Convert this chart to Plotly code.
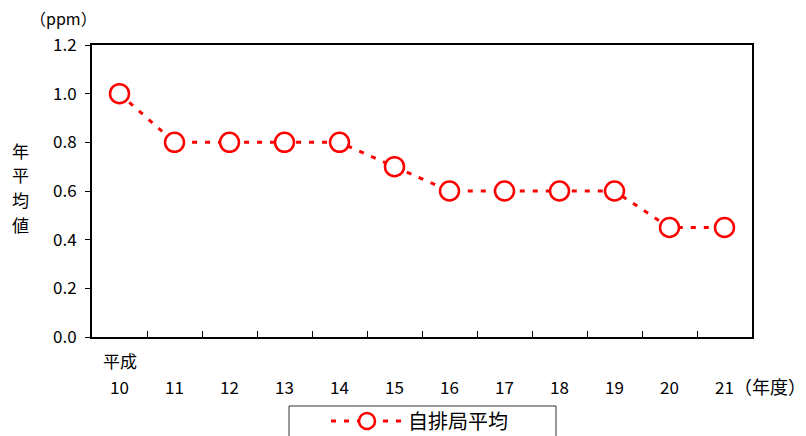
import plotly.graph_objects as go

# 年度（平成）
years = ["10", "11", "12", "13", "14", "15", "16", "17", "18", "19", "20", "21"]
# 自排局平均 年平均値 (ppm)
values = [1.0, 0.8, 0.8, 0.8, 0.8, 0.7, 0.6, 0.6, 0.6, 0.6, 0.45, 0.45]
series_name = "自排局平均"
y_ticks = [0.0, 0.2, 0.4, 0.6, 0.8, 1.0, 1.2]
y_title_chars = ["年", "平", "均", "値"]

FONT = "Noto Sans CJK JP"
RED = "#ff0000"

# plot area in pixels
L, R, T, B = 92, 752, 45, 337
W, H = R - L, B - T


def px_x(p):
    return (p - L) / W


def px_y(p):
    return (B - p) / H


fig = go.Figure()
fig.add_trace(go.Scatter(
    x=years, y=values, name=series_name, mode="lines+markers",
    line=dict(color=RED, width=3, dash="5px,8px"),
    marker=dict(symbol="circle", size=19, color="white",
                line=dict(color=RED, width=2.5)),
    showlegend=True,
))

fig.update_layout(
    width=806, height=436,
    margin=dict(l=L, r=806 - R, t=T, b=436 - B, autoexpand=False),
    paper_bgcolor="white", plot_bgcolor="white",
    font=dict(family=FONT, color="black", size=17),
    showlegend=True,
    legend=dict(orientation="h", x=px_x(326), y=px_y(421), xanchor="left", yanchor="middle",
                font=dict(size=20, family=FONT), itemwidth=72,
                bgcolor="rgba(0,0,0,0)", borderwidth=0),
    xaxis=dict(type="category", categoryorder="array", categoryarray=years,
               range=[-0.5, len(years) - 0.5],
               showline=True, linecolor="black", linewidth=2, mirror=True,
               ticks="inside", tickson="boundaries", ticklen=6, tickcolor="black",
               tickwidth=1, showgrid=False, zeroline=False,
               tickfont=dict(size=17, family=FONT), ticklabelstandoff=35),
    yaxis=dict(range=[0, 1.2], tickvals=y_ticks,
               ticktext=[f"{v:.1f}" for v in y_ticks],
               showline=True, linecolor="black", linewidth=2, mirror=True,
               ticks="outside", ticklen=5, tickcolor="black", tickwidth=1,
               showgrid=False, zeroline=False,
               tickfont=dict(size=17, family=FONT), ticklabelstandoff=5),
)

# 凡例の枠
fig.add_shape(type="rect", xref="paper", yref="paper",
              x0=px_x(289), x1=px_x(556), y0=px_y(460), y1=px_y(406),
              line=dict(color="#333333", width=1), fillcolor="rgba(0,0,0,0)")

# 単位
fig.add_annotation(text="（ppm）", xref="paper", yref="paper",
                   x=px_x(63), y=px_y(18), xanchor="center", yanchor="middle",
                   showarrow=False, font=dict(size=16, family=FONT))

# 縦書きの軸見出し
for i, ch in enumerate(y_title_chars):
    fig.add_annotation(text=ch, xref="paper", yref="paper",
                       x=px_x(20), y=px_y(150 + 24.7 * i),
                       xanchor="center", yanchor="middle",
                       showarrow=False, font=dict(size=17, family=FONT))

fig.add_annotation(text="平成", xref="x", yref="paper", x=0,
                   y=px_y(361), xanchor="center", yanchor="middle",
                   showarrow=False, font=dict(size=17, family=FONT))
fig.add_annotation(text="（年度）", xref="paper", yref="paper",
                   x=px_x(732), y=px_y(386), xanchor="left", yanchor="middle",
                   showarrow=False, font=dict(size=18, family=FONT))

fig.write_html("out.html")
